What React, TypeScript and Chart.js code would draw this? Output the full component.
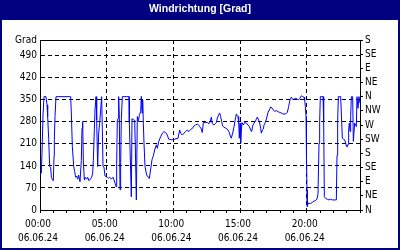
import React, { useEffect, useRef } from "react";
import { Chart, registerables } from "chart.js";

Chart.register(...registerables);

const TITLE = "Windrichtung [Grad]";

const HOURS = [
  0.0, 0.05, 0.1, 0.15, 0.225, 0.3, 0.45, 0.525, 0.575, 0.65, 0.725, 0.8, 0.85, 0.95, 1.0,
  1.05, 1.075, 1.125, 1.2, 2.3, 2.35, 2.425, 2.525, 2.6, 2.675, 2.75, 2.825, 2.9, 3.0, 3.05,
  3.1, 3.15, 3.2, 3.25, 3.325, 3.4, 3.5, 3.575, 3.675, 3.775, 3.875, 3.95, 4.0, 4.075, 4.125,
  4.2, 4.25, 4.325, 4.4, 4.475, 4.55, 4.625, 4.675, 4.725, 4.8, 4.875, 5.05, 5.125, 5.225, 5.35,
  5.475, 5.55, 5.625, 5.7, 5.75, 5.8, 5.85, 5.9, 5.95, 6.0, 6.05, 6.1, 6.175, 6.675, 6.7,
  6.75, 6.85, 6.9, 7.0, 7.1, 7.15, 7.225, 7.3, 7.375, 7.45, 7.55, 7.6, 7.65, 7.7, 7.75,
  7.8, 7.875, 8.0, 8.125, 8.2, 8.3, 8.4, 8.5, 8.6, 8.725, 8.8, 8.9, 9.05, 9.175, 9.3,
  9.425, 9.55, 9.65, 9.85, 10.1, 10.35, 10.475, 10.55, 10.675, 10.8, 10.9, 11.05, 11.15, 11.3, 11.425,
  11.55, 11.675, 11.8, 11.9, 11.975, 12.1, 12.175, 12.25, 12.4, 12.55, 12.675, 12.775, 12.85, 12.925, 13.05,
  13.15, 13.225, 13.3, 13.4, 13.475, 13.55, 13.625, 13.7, 13.8, 13.925, 14.025, 14.1, 14.2, 14.275, 14.35,
  14.45, 14.55, 14.65, 14.725, 14.8, 14.85, 14.9, 14.95, 15.0, 15.05, 15.1, 15.15, 15.25, 15.35, 15.475,
  15.6, 15.7, 15.8, 15.875, 15.95, 16.05, 16.15, 16.225, 16.3, 16.4, 16.475, 16.55, 16.6, 16.675, 16.75,
  16.8, 16.9, 17.0, 17.1, 17.2, 17.3, 17.4, 17.5, 17.6, 17.725, 17.85, 17.975, 18.1, 18.225, 18.4,
  18.55, 18.65, 18.75, 18.85, 18.925, 19.05, 19.175, 19.3, 19.4, 19.5, 19.6, 19.7, 19.8, 19.85, 19.9,
  19.95, 19.975, 20.0, 20.025, 20.05, 20.1, 20.175, 20.3, 20.425, 20.55, 20.675, 20.775, 20.85, 20.925, 20.975,
  21.025, 21.225, 21.275, 21.325, 21.425, 21.55, 21.675, 21.8, 21.925, 22.1, 22.225, 22.275, 22.325, 22.375, 22.55,
  22.6, 22.675, 22.75, 22.85, 22.925, 23.0, 23.05, 23.1, 23.15, 23.2, 23.25, 23.3, 23.35, 23.45, 23.5,
  23.6, 23.725, 23.775, 23.85, 23.925, 24.0,
];

const DIRECTION = [
  115, 115, 117, 180, 302, 360, 360, 334, 297, 228, 138, 136, 104, 95, 93,
  170, 223, 297, 360, 360, 308, 202, 140, 122, 104, 108, 98, 111, 90, 90,
  157, 260, 281, 156, 95, 104, 98, 104, 93, 98, 104, 117, 157, 255, 318,
  360, 286, 138, 244, 276, 318, 360, 255, 138, 136, 108, 104, 101, 104, 98,
  104, 96, 85, 74, 143, 286, 290, 360, 290, 64, 150, 290, 360, 360, 278,
  200, 42, 290, 287, 285, 200, 32, 297, 281, 300, 313, 361, 308, 350, 276,
  212, 138, 111, 104, 100, 130, 160, 172, 191, 207, 196, 217, 233, 244, 249,
  246, 238, 225, 223, 225, 228, 254, 244, 238, 244, 249, 254, 249, 256, 259,
  267, 270, 273, 270, 265, 257, 246, 278, 278, 278, 274, 281, 295, 274, 270,
  274, 278, 292, 302, 308, 297, 281, 267, 263, 260, 257, 254, 246, 235, 228,
  244, 265, 289, 305, 299, 297, 278, 228, 276, 212, 254, 278, 270, 278, 276,
  270, 265, 254, 249, 267, 276, 281, 289, 295, 286, 276, 260, 244, 254, 257,
  270, 278, 292, 310, 318, 327, 324, 318, 313, 316, 312, 310, 308, 305, 305,
  310, 329, 350, 358, 352, 352, 355, 352, 350, 355, 363, 360, 358, 350, 329,
  297, 180, 159, 64, 11, 21, 21, 21, 24, 28, 30, 35, 52, 212, 281,
  360, 360, 281, 42, 37, 34, 32, 34, 32, 32, 32, 174, 281, 360, 360,
  308, 228, 225, 223, 212, 201, 201, 209, 255, 276, 250, 297, 360, 360, 218,
  276, 265, 360, 323, 360, 339,
];

const LEFT_TICKS = [0, 70, 140, 210, 280, 350, 420, 490, 540];
const LEFT_LABELS = ["0", "70", "140", "210", "280", "350", "420", "490", "Grad"];
const RIGHT_TICKS = [0, 45, 90, 135, 180, 225, 270, 315, 360, 405, 450, 495, 540];
const RIGHT_LABELS = ["N", "NE", "E", "SE", "S", "SW", "W", "NW", "N", "NE", "E", "SE", "S"];
const HOUR_TICKS = [0, 1, 2, 3, 4, 5, 6, 7, 8, 9, 10, 11, 12, 13, 14, 15, 16, 17, 18, 19, 20, 21, 22, 23, 24];
const MAJOR_HOURS = [0, 5, 10, 15, 20];
const TIME_LABELS = ["00:00", "05:00", "10:00", "15:00", "20:00"];
const DATE_LABEL = "06.06.24";

const FONT = "'DejaVu Sans Condensed', 'DejaVu Sans', sans-serif";
const NAVY = "#000080";

const framePlugin = {
  id: "frame",
  beforeDraw(chart: any) {
    const { ctx, width, height } = chart;
    ctx.save();
    ctx.fillStyle = NAVY;
    ctx.fillRect(0, 0, width, height);
    ctx.fillStyle = "#ffffff";
    ctx.fillRect(2, 20, width - 4, height - 22);
    ctx.restore();
  },
  afterDraw(chart: any) {
    const { ctx, chartArea } = chart;
    ctx.save();
    ctx.strokeStyle = "#000000";
    ctx.lineWidth = 1;
    ctx.beginPath();
    const y = Math.round(chartArea.top) + 0.5;
    ctx.moveTo(Math.round(chartArea.left), y);
    ctx.lineTo(Math.round(chartArea.right) + 1, y);
    ctx.stroke();
    ctx.restore();
  },
};

export default function App() {
  const ref = useRef<HTMLCanvasElement | null>(null);

  useEffect(() => {
    document.body.style.margin = "0";
    const canvas = ref.current;
    if (!canvas) return;
    const points = HOURS.map((h, i) => ({ x: h, y: DIRECTION[i] }));
    const chart = new Chart(canvas, {
      type: "line",
      data: {
        datasets: [
          {
            data: points,
            borderColor: "#0000ff",
            borderWidth: 1,
            pointRadius: 0,
            tension: 0,
            fill: false,
            xAxisID: "x",
            yAxisID: "y",
          },
        ],
      },
      options: {
        responsive: false,
        animation: false,
        devicePixelRatio: 1,
        layout: { padding: 0 },
        plugins: {
          legend: { display: false },
          tooltip: { enabled: false },
          title: {
            display: true,
            text: TITLE,
            color: "#ffffff",
            font: { family: "'Liberation Sans', sans-serif", size: 10.5, weight: "bold", lineHeight: 1.2 },
            padding: { top: 2.5, bottom: 24.9 },
          },
        },
        scales: {
          x: {
            type: "linear",
            position: "bottom",
            min: 0,
            max: 24,
            afterBuildTicks: (scale: any) => {
              scale.ticks = HOUR_TICKS.map((v) => ({ value: v }));
            },
            afterFit: (scale: any) => {
              scale.height = 40;
            },
            ticks: {
              autoSkip: false,
              maxRotation: 0,
              minRotation: 0,
              padding: 4,
              labelOffset: -2,
              color: "#000000",
              font: { family: FONT, size: 10, lineHeight: 1.4 },
              callback: (value: any) => {
                const idx = MAJOR_HOURS.indexOf(Number(value));
                return idx >= 0 ? [TIME_LABELS[idx], DATE_LABEL] : "";
              },
            },
            grid: {
              color: (ctx: any) => {
                const v = ctx.tick ? ctx.tick.value : -1;
                return MAJOR_HOURS.indexOf(v) > 0 ? "#000000" : "rgba(0,0,0,0)";
              },
              tickColor: "#000000",
              tickLength: 3,
              lineWidth: 1,
            },
            border: { display: true, color: "#000000", width: 1, dash: [4, 3] },
          },
          y: {
            type: "linear",
            position: "left",
            min: 0,
            max: 540,
            afterBuildTicks: (scale: any) => {
              scale.ticks = LEFT_TICKS.map((v) => ({ value: v }));
            },
            afterFit: (scale: any) => {
              scale.width = 40;
            },
            ticks: {
              autoSkip: false,
              padding: 3,
              color: "#000000",
              font: { family: FONT, size: 10 },
              callback: (value: any) => {
                const idx = LEFT_TICKS.indexOf(Number(value));
                return idx >= 0 ? LEFT_LABELS[idx] : "";
              },
            },
            grid: {
              color: (ctx: any) => {
                const v = ctx.tick ? ctx.tick.value : -1;
                return v > 0 && v < 540 ? "#000000" : "rgba(0,0,0,0)";
              },
              drawTicks: false,
              lineWidth: 1,
            },
            border: { display: true, color: "#000000", width: 1, dash: [4, 3] },
          },
          y2: {
            type: "linear",
            position: "right",
            min: 0,
            max: 540,
            afterBuildTicks: (scale: any) => {
              scale.ticks = RIGHT_TICKS.map((v) => ({ value: v }));
            },
            afterFit: (scale: any) => {
              scale.width = 40;
            },
            ticks: {
              autoSkip: false,
              padding: 2,
              color: "#000000",
              font: { family: FONT, size: 10 },
              callback: (value: any) => {
                const idx = RIGHT_TICKS.indexOf(Number(value));
                return idx >= 0 ? RIGHT_LABELS[idx] : "";
              },
            },
            grid: {
              drawOnChartArea: false,
              drawTicks: true,
              tickLength: 3,
              tickColor: "#000000",
              color: "#000000",
            },
            border: { display: true, color: "#000000", width: 1 },
          },
        },
      },
      plugins: [framePlugin],
    } as any);
    return () => chart.destroy();
  }, []);

  return (
    <div style={{ width: 400, height: 250 }}>
      <canvas ref={ref} width={400} height={250} style={{ display: "block" }} />
    </div>
  );
}
